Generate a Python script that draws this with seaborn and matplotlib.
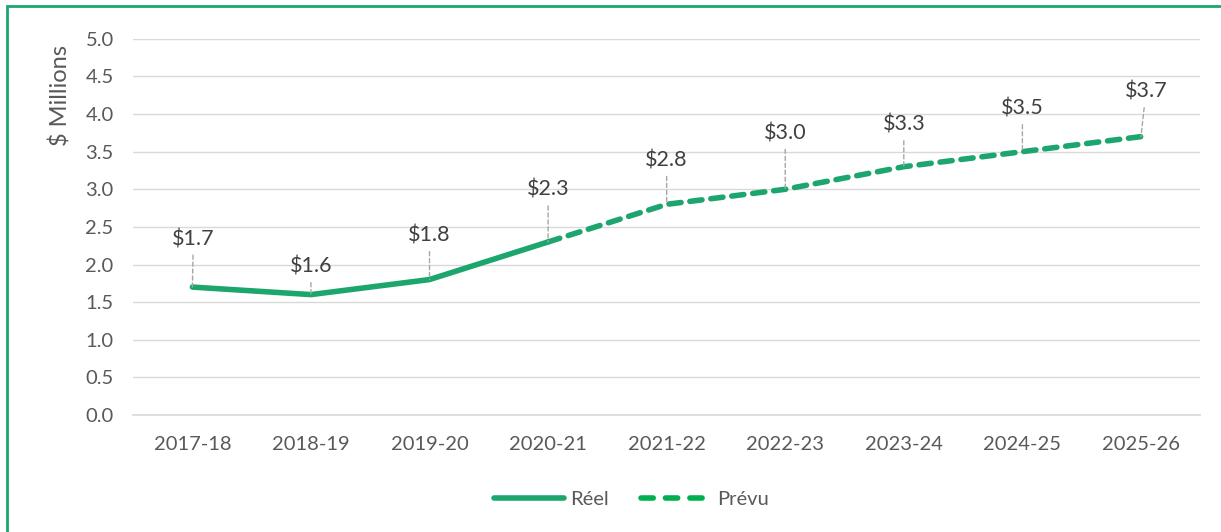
import numpy as np
import pandas as pd
import seaborn as sns
import matplotlib.pyplot as plt
from matplotlib.patches import Rectangle

years = ["2017-18", "2018-19", "2019-20", "2020-21", "2021-22",
         "2022-23", "2023-24", "2024-25", "2025-26"]
reel = [1.7, 1.6, 1.8, 2.3]
prevu = [2.3, 2.8, 3.0, 3.3, 3.5, 3.7]
labels = ["$1.7", "$1.6", "$1.8", "$2.3", "$2.8", "$3.0", "$3.3", "$3.5", "$3.7"]
label_values = [1.7, 1.6, 1.8, 2.3, 2.8, 3.0, 3.3, 3.5, 3.7]
# label layout (pixels above the point)
label_dy = [48, 28, 44, 52, 44, 56, 42, 43, 45]
label_dx = [1, 0, 0, 0, 0, 0, 0, 0, 5]

green = "#1CA66E"
text_col = "#595959"

sns.set_theme(style="white")
plt.rcParams["font.family"] = ["Lato", "DejaVu Sans"]

df_reel = pd.DataFrame({"x": np.arange(len(reel)), "y": reel})
df_prevu = pd.DataFrame({"x": np.arange(len(reel) - 1, len(reel) - 1 + len(prevu)), "y": prevu})

fig = plt.figure(figsize=(12.21, 5.32), dpi=100)
ax = fig.add_axes([0.109, 0.22, 0.874, 0.707])

sns.lineplot(data=df_reel, x="x", y="y", ax=ax, color=green, lw=4,
             solid_capstyle="round", label="Réel")
sns.lineplot(data=df_prevu, x="x", y="y", ax=ax, color=green, lw=4,
             linestyle=(0, (2.2, 1.6)), dash_capstyle="round", label="Prévu")

for i, (lab, v) in enumerate(zip(labels, label_values)):
    ax.annotate(lab, xy=(i, v), xytext=(label_dx[i], label_dy[i]),
                textcoords="offset pixels", ha="center", va="center",
                fontsize=15.5, color="#404040",
                arrowprops=dict(arrowstyle="-", linestyle=(0, (3, 2)),
                                color="#a6a6a6", lw=1, shrinkA=2, shrinkB=0))

ax.set_xlim(-0.5, len(years) - 0.5)
ax.set_ylim(0, 5.0)
ax.set_yticks(np.arange(0, 5.01, 0.5))
ax.set_yticklabels([f"{t:.1f}" for t in np.arange(0, 5.01, 0.5)])
ax.set_xticks(range(len(years)))
ax.set_xticklabels(years)
ax.set_xticks(np.arange(-0.5, len(years)), minor=True)
ax.tick_params(axis="x", which="major", length=0, pad=15, labelsize=14.5, labelcolor=text_col)
ax.tick_params(axis="x", which="minor", length=6, color="#d9d9d9", width=1)
ax.tick_params(axis="y", length=0, pad=14, labelsize=14.5, labelcolor=text_col)
ax.grid(axis="y", color="#d9d9d9", lw=1)
ax.set_axisbelow(True)
for s in ["top", "right", "left"]:
    ax.spines[s].set_visible(False)
ax.spines["bottom"].set_color("#d9d9d9")
ax.set_xlabel("")
ax.set_ylabel("$ Millions", fontsize=17, color=text_col)
ax.yaxis.set_label_coords(-0.058, 0.85)

leg = ax.legend(loc="upper center", bbox_to_anchor=(0.467, -0.155), ncol=2, frameon=False,
                fontsize=14.5, handlelength=3.5, columnspacing=1.6, handletextpad=0.3)
for t in leg.get_texts():
    t.set_color(text_col)
leg.get_lines()[1].set_linestyle((0, (2.2, 2.2)))
leg.get_lines()[1].set_color("#00B050")

fig.patches.append(Rectangle((0.006, -0.01), 0.995, 0.998, transform=fig.transFigure,
                             fill=False, edgecolor="#1CA66E", lw=2))

fig.savefig("out.png", dpi=100)
